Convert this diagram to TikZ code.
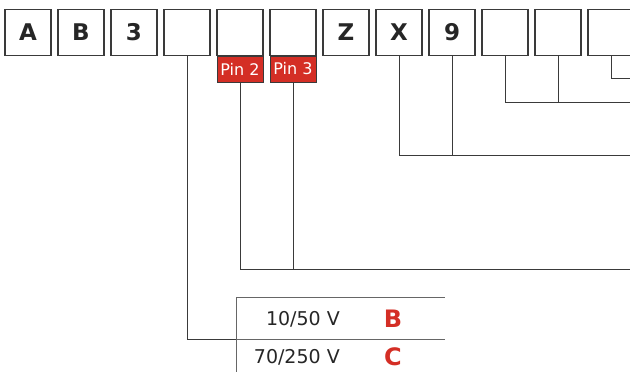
\documentclass[tikz,border=0pt]{standalone}
\usepackage{fontspec}
\setmainfont{DejaVu Sans}
\definecolor{pinred}{HTML}{D42E25}
\definecolor{linegray}{HTML}{3A3A3A}
\begin{document}
\begin{tikzpicture}[x=1pt,y=-1pt,
  codebox/.style={draw=linegray,line width=1.1pt,minimum width=46pt,minimum height=45.5pt,inner sep=0pt,font=\fontsize{23}{23}\selectfont\bfseries,text=black!85},
  pinbox/.style={draw=linegray,line width=0.8pt,fill=pinred,minimum width=46pt,minimum height=26pt,inner sep=0pt,font=\fontsize{16}{16}\selectfont,text=white},
  conn/.style={draw=linegray,line width=0.9pt},
  tabtxt/.style={font=\fontsize{19}{19}\selectfont,text=black!85,anchor=east,inner sep=0pt},
  tabcode/.style={font=\fontsize{24}{24}\selectfont\bfseries,text=pinred,inner sep=0pt}]
\useasboundingbox (0,0) rectangle (630,372);
\clip (0,0) rectangle (630,372);
\foreach \i/\t in {1/A,2/B,3/3,4/{},5/{},6/{},7/Z,8/X,9/9,10/{},11/{},12/{}}{
  \node[codebox] (b\i) at ({28+53*(\i-1)},32.3) {\t};
}
\node[pinbox,anchor=north] (p2) at (b5.south) {Pin 2};
\node[pinbox,anchor=north] (p3) at (b6.south) {Pin 3};
% free ends
\coordinate (e12) at (630,78);
\coordinate (e1011) at (630,102);
\coordinate (e89) at (630,155);
\coordinate (epin) at (630,269);
\coordinate (tleft) at (236,339);
% connectors
\draw[conn] (b12.south) |- (e12);
\draw[conn] (b10.south) |- (e1011);
\draw[conn] (b11.south) -- (b11.south |- e1011);
\draw[conn] (b8.south) |- (e89);
\draw[conn] (b9.south) -- (b9.south |- e89);
\draw[conn] (p2.south) |- (epin);
\draw[conn] (p3.south) -- (p3.south |- epin);
\draw[conn] (b4.south) |- (tleft);
% table
\coordinate (ttop) at (236,297);
\coordinate (tr1) at (445,297);
\coordinate (tr2) at (445,339);
\coordinate (tbot) at (236,372);
\draw[conn,draw=gray!80!black] (tbot) -- (ttop) -- (tr1);
\draw[conn,draw=gray!80!black] (tleft) -- (tr2);
\node[tabtxt] (v1) at (340,319) {10/50 V};
\node[tabtxt] (v2) at (340,357) {70/250 V};
\node[tabcode] (c1) at (393,319) {B};
\node[tabcode] (c2) at (393,357) {C};
\end{tikzpicture}
\end{document}
